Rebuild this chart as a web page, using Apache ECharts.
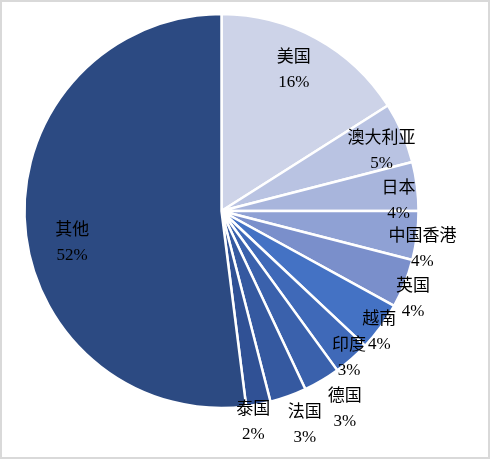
<!DOCTYPE html>
<html>
<head>
<meta charset="utf-8">
<script src="https://cdn.jsdelivr.net/npm/echarts@6/dist/echarts.min.js"></script>
<style>
  html, body { margin: 0; padding: 0; background: #fff; }
  #chart { width: 490px; height: 459px; box-sizing: border-box; border: 2px solid #d9d9d9; }
</style>
</head>
<body>
<div id="chart"></div>
<script>
  // share of total, clockwise from 12 o'clock
  var names = ['美国', '澳大利亚', '日本', '中国香港', '英国', '越南', '印度', '德国', '法国', '泰国', '其他'];
  var shares = [16, 5, 4, 4, 4, 4, 3, 3, 3, 2, 52];

  var colors = ['#cdd3e8', '#b9c3e2', '#a8b5dc', '#8fa1d4', '#7a8fcb', '#4472c4',
    '#3f69b8', '#3a61ac', '#3559a0', '#305195', '#2c4a82'];
  // label placement: distance from centre and sideways nudge (clockwise), px
  var labelDist = [159, 171, 177, 204, 210, 198, 194, 232, 229, 212, 151];
  var labelShift = [-5, 8, 11, 12, 10, 4, 1, -6, -6, 8, -22];

  var cx = 219.5, cy = 209, radius = 197;
  var total = shares.reduce(function(a, b) { return a + b; }, 0);

  var chart = echarts.init(document.getElementById('chart'));

  chart.setOption({
    animation: false,
    series: [{
      type: 'pie',
      center: [cx, cy],
      radius: radius,
      startAngle: 90,
      clockwise: true,
      data: names.map(function(n, i) {
        return { name: n, value: shares[i], itemStyle: { color: colors[i] } };
      }),
      itemStyle: { borderColor: '#fff', borderWidth: 2.5 },
      label: {
        show: true,
        position: 'inside',
        formatter: function(p) { return p.name + '\n' + p.value + '%'; },
        fontFamily: "'Liberation Serif', 'Noto Sans CJK SC', serif",
        fontSize: 17,
        lineHeight: 25,
        color: '#000'
      },
      labelLine: { show: false },
      emphasis: { disabled: true }
    }]
  });

  // push each label out along its slice's mid angle
  chart.setOption({
    series: [{
      labelLayout: function(p) {
        var i = p.dataIndex;
        var before = 0;
        for (var k = 0; k < i; k++) before += shares[k];
        var mid = (before + shares[i] / 2) / total * Math.PI * 2;
        var s = Math.sin(mid), c = Math.cos(mid);
        return {
          x: cx + s * labelDist[i] + c * labelShift[i],
          y: cy - c * labelDist[i] + s * labelShift[i] + 1,
          align: 'center',
          verticalAlign: 'middle'
        };
      }
    }]
  });
</script>
</body>
</html>
